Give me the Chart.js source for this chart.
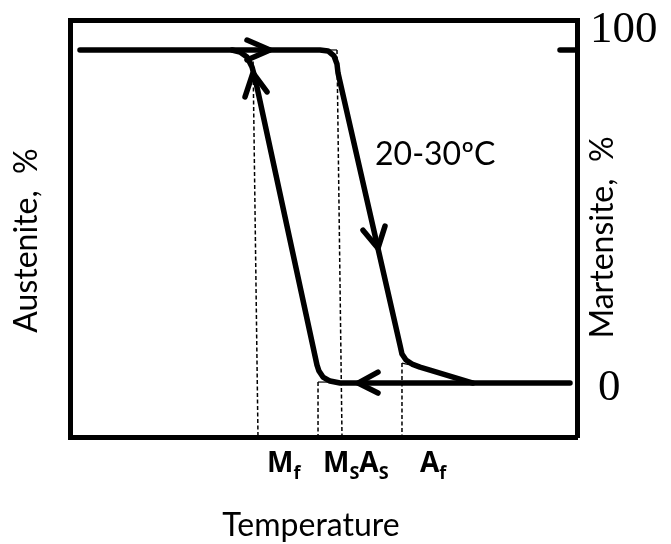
<!DOCTYPE html>
<html><head><meta charset="utf-8">
<script src="https://cdn.jsdelivr.net/npm/chart.js@4"></script>
<style>html,body{margin:0;padding:0;background:#fff}canvas{display:block}</style>
</head><body>
<canvas id="c" width="671" height="544"></canvas>
<script>
// ---- data (temperature in arbitrary units 0..100, phase fraction in %) ----
const tempRange = [0, 100];
const pctRange = [-16.2, 109];
const pctTicks = [0, 100];
const rangeLabel = '20-30ºC';
const yTitleLeft = 'Austenite,  %';
const yTitleRight = 'Martensite,  %';
const xTitle = 'Temperature';
const transLabels = [['M','f'],['M','S','A','S'],['A','f']];
const transTemps = [38.86, 49.90, 69.03];

// upper branch: 100% plateau, drop on the right side, approach to 0
const upperBranch = [[1.97,100],[49.31,100],[50.89,99.7],[52.07,98.2],[52.66,95.8],[52.86,93.1],
  [65.09,11.4],[65.48,8.7],[66.27,6.9],[67.46,5.7],[69.03,4.8],[71.01,3.9],[79.49,0]];
// lower branch: 0% plateau, rise on the left side, approach to 100
const lowerBranch = [[98.62,0],[53.25,0],[51.28,0.6],[49.90,1.8],[49.11,3.6],[48.72,5.4],
  [36.49,91.6],[35.90,94.9],[34.91,97.9],[33.53,99.4],[31.95,100]];
// arrow heads
const arrowTop = [[34.91,103.0],[39.45,100],[34.91,97.0]];
const arrowLeft = [[34.52,85.9],[36.09,93.1],[38.86,87.4]];
const arrowRight = [[57.79,45.9],[60.75,40.5],[62.13,47.1]];
const arrowBottom = [[60.75,3.3],[56.80,0],[60.75,-3.0]];
// construction lines
const dashMf = [[36.09,98.5],[37.08,-16.2]];
const dashMsAs = [[52.66,100],[53.65,-16.2]];
const dashMs = [[48.92,0.3],[48.92,-16.2]];
const dashAf = [[65.48,6.0],[65.48,-16.2]];
const thinTop = [[49.31,100],[52.66,100]];
const thinMs = [[48.92,0.3],[53.25,0.3]];
const thinAf = [[65.48,6.0],[71.01,4.2]];
const rightTick = [[96.65,100],[100,100]];

const toPts = a => a.map(p => ({x:p[0], y:p[1]}));
function thick(a){return {data:toPts(a), borderColor:'#000', borderWidth:5.5, pointRadius:0, showLine:true, fill:false, borderCapStyle:'round', borderJoinStyle:'round', tension:0};}
function dashed(a){return {data:toPts(a), borderColor:'#000', borderWidth:1.5, borderDash:[4,2.5], pointRadius:0, showLine:true, fill:false};}
function thin(a){return {data:toPts(a), borderColor:'#000', borderWidth:1.2, pointRadius:0, showLine:true, fill:false};}

const textPlugin = {
  id:'texts',
  afterDatasetsDraw(chart){
    const ctx = chart.ctx, xs = chart.scales.x, ys = chart.scales.y, ca = chart.chartArea;
    const px = v => xs.getPixelForValue(v), py = v => ys.getPixelForValue(v);
    ctx.save();
    ctx.fillStyle = '#000';
    ctx.textAlign = 'left'; ctx.textBaseline = 'alphabetic';
    // range label
    ctx.font = '32px Lato';
    ctx.fillText(rangeLabel, px(60.16), py(65.5));
    // right-axis numbers
    ctx.font = '45px "Liberation Serif"';
    ctx.fillText(String(pctTicks[1]), ca.right + 13, py(pctTicks[1]) - 8);
    ctx.fillText(String(pctTicks[0]), ca.right + 21, py(pctTicks[0]) + 17);
    // transition labels
    const base = ca.bottom + 35;
    transLabels.forEach((parts, i) => {
      let x = px(transTemps[i]);
      parts.forEach((s, j) => {
        const sub = j % 2 === 1;
        ctx.font = sub ? 'bold 18px "Open Sans"' : 'bold 28px "Open Sans"';
        ctx.fillText(s, x, base + (sub ? 7 : 0));
        x += ctx.measureText(s).width;
      });
    });
    // x title
    ctx.font = '32px Lato';
    ctx.textAlign = 'center';
    ctx.fillText(xTitle, 311, 536);
    // y titles (reading upward)
    ctx.save(); ctx.translate(ca.left - 33, (ca.top + ca.bottom)/2 + 12); ctx.rotate(-Math.PI/2);
    ctx.fillText(yTitleLeft, 0, 0); ctx.restore();
    ctx.save(); ctx.translate(ca.right + 36, (ca.top + ca.bottom)/2 + 9); ctx.rotate(-Math.PI/2);
    ctx.fillText(yTitleRight, 0, 0); ctx.restore();
    ctx.restore();
  }
};

const axisCommon = {grid:{display:false, drawTicks:false}, ticks:{display:false}, border:{display:true, width:5, color:'#000'}};

new Chart(document.getElementById('c'), {
  type:'scatter',
  data:{datasets:[
    dashed(dashMf), dashed(dashMsAs), dashed(dashMs), dashed(dashAf),
    thin(thinTop), thin(thinMs), thin(thinAf),
    thick(upperBranch), thick(lowerBranch),
    thick(arrowTop), thick(arrowLeft), thick(arrowRight), thick(arrowBottom),
    thick(rightTick)
  ]},
  options:{
    responsive:false, animation:false, events:[],
    layout:{padding:{left:70, top:20, right:94, bottom:107}},
    plugins:{legend:{display:false}, tooltip:{enabled:false}},
    scales:{
      x:Object.assign({type:'linear', position:'bottom', min:tempRange[0], max:tempRange[1]}, axisCommon),
      x2:Object.assign({type:'linear', position:'top', min:tempRange[0], max:tempRange[1]}, axisCommon),
      y:Object.assign({type:'linear', position:'left', min:pctRange[0], max:pctRange[1]}, axisCommon),
      y2:Object.assign({type:'linear', position:'right', min:pctRange[0], max:pctRange[1]}, axisCommon)
    }
  },
  plugins:[textPlugin]
});
</script>
</body></html>
